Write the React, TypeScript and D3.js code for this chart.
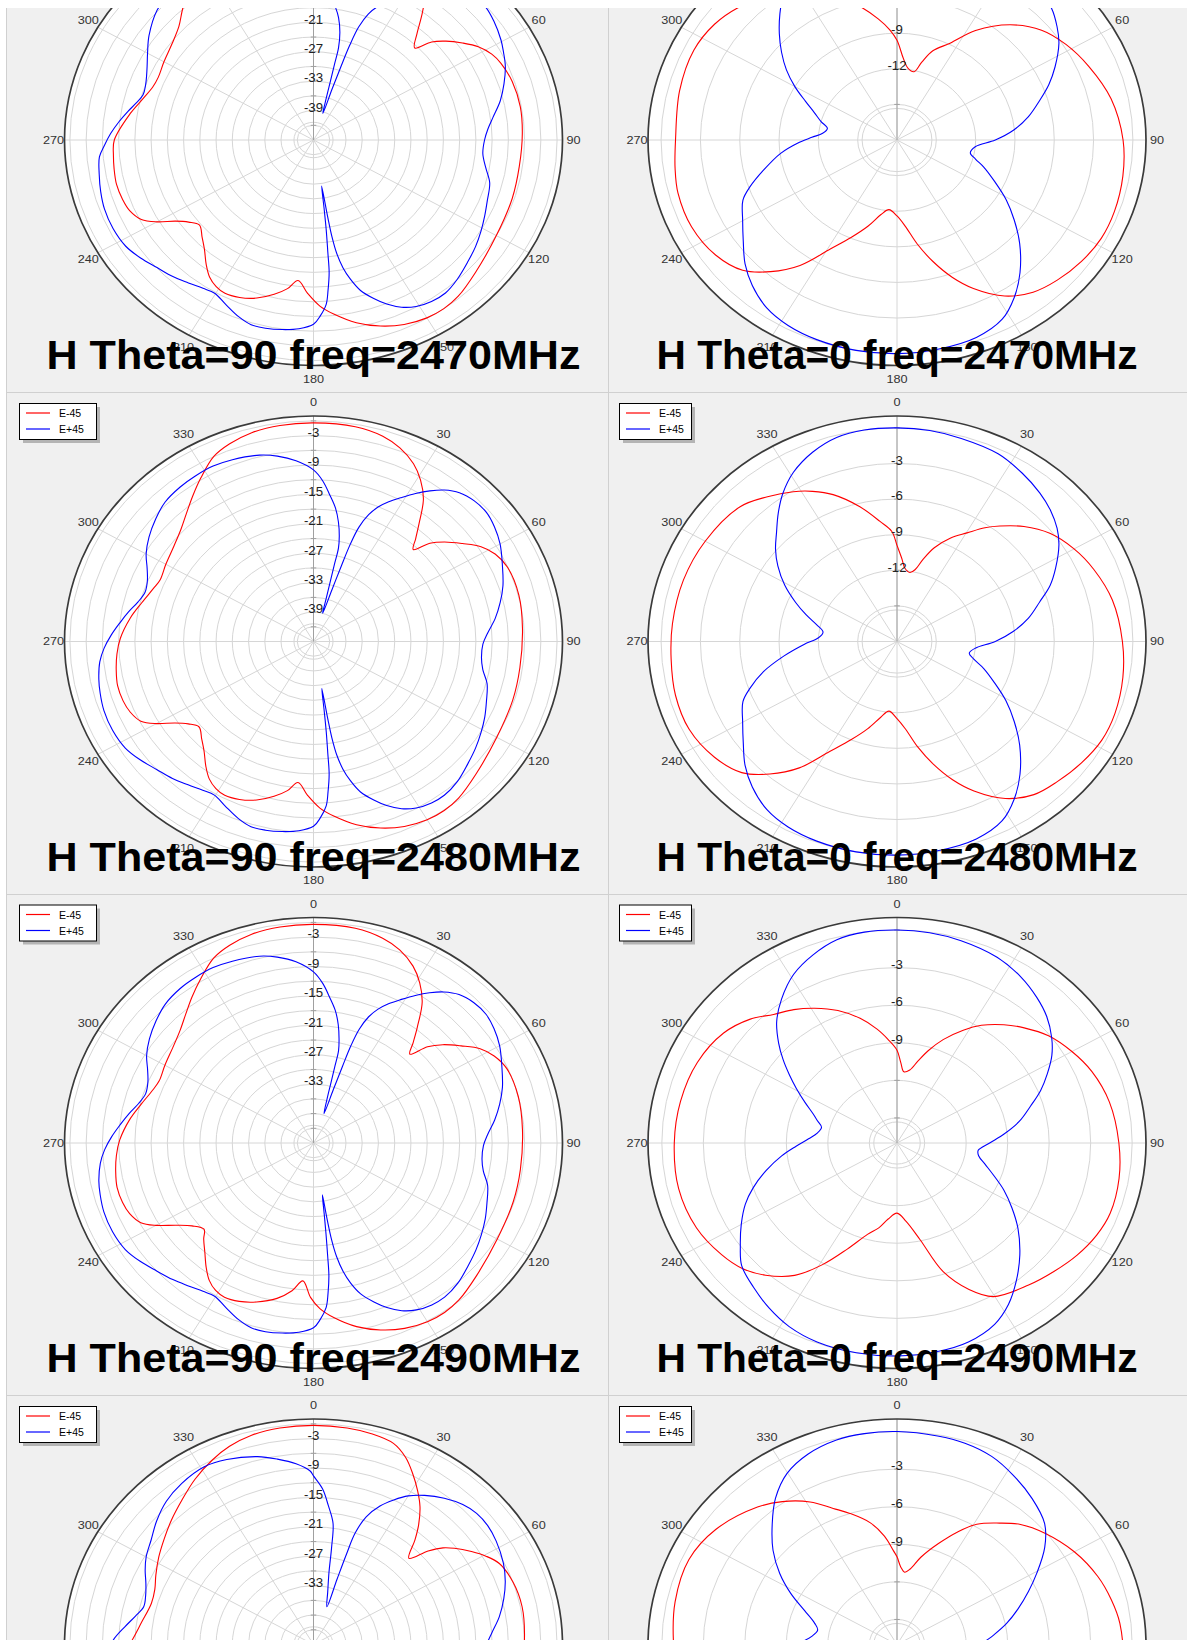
import React, { useEffect, useRef } from "react";
import * as d3 from "d3";

type Pt = [number, number];

// ---------------- data ----------------
const FREQUENCIES = ["2470", "2480", "2490", "2500"];
const SERIES_NAMES = ["E-45", "E+45"];
const SERIES_COLORS = ["#FF0000", "#0000FF"];
const ANGLE_TICKS = [0, 30, 60, 90, 120, 150, 180, 210, 240, 270, 300, 330];

const H90_RANGE: [number, number] = [-45, 1];
const H0_RANGE_A: [number, number] = [-18, 1];
const H0_RANGE_B: [number, number] = [-17, 1];
const H90_RINGS = [-42, -39, -36, -33, -30, -27, -24, -21, -18, -15, -12, -9, -6, -3, 0];
const H0_RINGS = [-15, -12, -9, -6, -3, 0];
const H90_LABELS_A = [-3, -9, -15, -21, -27, -33, -39];
const H90_LABELS_B = [-3, -9, -15, -21, -27, -33];
const H0_LABELS_A = [-3, -6, -9, -12];
const H0_LABELS_B = [-3, -6, -9];

// Theta = 90 cuts  [angle deg, dB]
const H90_2470_EM45: Pt[] = [[0,-0.4],[10,-0.5],[17,-1.2],[22,-2.3],[27,-4.1],[31,-6.4],[36.2,-10.5],[38.5,-13],[41.3,-16],[44.9,-18.5],[47.5,-15.4],[50.5,-13.3],[54.3,-11.1],[58,-9.1],[62,-7.7],[65.7,-7.0],[72,-6.4],[80,-6.2],[88,-6.4],[98,-6.6],[108,-6.4],[120,-6.0],[132,-4.7],[140,-3.4],[145,-3.0],[150,-3.1],[156,-3.8],[162,-5.1],[168,-6.9],[174,-9.3],[178,-11.1],[182,-13.7],[185.7,-16.2],[189,-14.3],[193,-12.7],[198,-11.1],[203,-10.1],[207.6,-9.7],[211,-10.1],[214.5,-11.1],[218,-12.8],[222,-14.9],[226,-16.4],[230.6,-17.7],[234,-16.5],[237,-14.6],[240,-11.6],[243,-9.3],[247,-8.1],[251,-7.7],[256,-7.5],[261,-7.7],[265,-7.9],[270,-8.2],[279,-10.7],[285,-12.4],[290,-13.4],[294,-13.6],[300,-13.1],[307,-12.3],[313,-11.0],[318.5,-8.7],[323,-7.2],[328,-5.5],[334,-3.1],[339,-1.8],[345,-0.9],[352,-0.5]];
const H90_2470_EP45: Pt[] = [[0,-10.2],[3,-12.5],[5.8,-15.2],[8.5,-17.6],[10.5,-19.6],[12.5,-22.5],[13.8,-25.6],[14.1,-29],[14.6,-32.5],[15.4,-36],[17.8,-39.3],[18.3,-34],[18.7,-29],[19.1,-24.5],[19.9,-20.5],[21.5,-17.4],[23.5,-15.3],[26,-13.5],[29,-11.6],[32,-9.6],[35,-7.6],[38,-5.6],[42,-4.0],[46,-3.3],[49.4,-3.2],[54,-3.8],[59.5,-4.8],[63,-5.6],[67,-6.5],[72,-8.0],[77,-9.6],[82,-11.5],[86,-12.7],[90,-13.4],[95,-13.6],[100,-12.7],[105,-11.3],[111,-10.6],[116,-9.8],[121,-8.9],[126,-8],[131,-7.2],[137,-6.1],[142,-5.4],[146.5,-5.5],[150.8,-6.1],[154.5,-7.2],[158,-8.9],[161,-10.8],[164.2,-13.1],[166.5,-15.8],[168.2,-18.4],[169.5,-21.5],[170.2,-25],[170.5,-29],[170.9,-35.5],[172,-31],[172.7,-26.5],[173.4,-22],[173.9,-17.8],[175,-14.2],[176,-11.4],[178,-9.1],[180,-7.4],[184,-6.4],[188.5,-5.9],[193,-5.6],[197,-5.6],[201,-6.4],[206,-7.8],[210.3,-8.8],[214,-8.5],[218.4,-7.8],[223,-6.9],[228,-6.1],[233,-5.0],[238,-4.1],[244,-3.8],[250,-3.9],[255,-4.3],[260,-4.8],[265,-5.3],[268.5,-6.4],[272,-7.5],[276,-8.9],[279.6,-10.2],[283,-11.4],[286.3,-12.2],[290,-12.0],[293,-11.5],[296,-10.8],[300,-9.6],[305,-7.9],[312.5,-5.8],[317,-5.2],[322,-5.0],[327,-4.8],[332.6,-4.7],[338,-5.0],[345.3,-5.7],[350,-6.7],[355,-8.2]];

const H90_2480_EM45: Pt[] = [[0,-0.4],[10,-0.5],[17,-1.2],[22,-2.4],[27,-4.3],[31,-6.6],[35,-9.6],[39,-14],[42,-16.8],[44.5,-18.7],[47,-15.6],[50,-13.4],[54,-11],[58,-8.5],[62,-7],[67,-6.1],[76,-5.9],[86,-6.3],[98,-6.5],[108,-6.3],[120,-5.9],[132,-4.6],[140,-3.3],[145,-2.9],[150,-3.0],[156,-3.7],[162,-5],[168,-6.8],[174,-9.2],[178,-11],[182,-13.6],[185.7,-16.1],[189,-14.2],[193,-12.6],[198,-11],[203,-10],[207.6,-9.6],[211,-10],[214.5,-11],[218,-12.7],[222,-14.8],[226,-16.3],[230.6,-17.6],[234,-16.4],[237,-14.5],[240,-11.5],[243,-9.2],[247,-8.2],[251,-7.8],[256,-7.7],[261,-8.1],[266,-8.6],[271,-9.3],[278,-10.8],[284,-12.3],[290,-13.5],[294,-14],[300,-13.5],[307,-12.7],[313,-11.5],[318,-9.9],[323,-7.9],[328,-5.7],[334,-3.0],[339,-1.8],[345,-0.9],[352,-0.5]];
const H90_2480_EP45: Pt[] = [[0,-10],[3,-12.2],[5.8,-15],[8.5,-17.5],[10.7,-20.2],[12.5,-23],[13.6,-25.4],[13.8,-28.8],[14.2,-32.2],[14.9,-35.6],[16.4,-39],[17.9,-33.9],[18.45,-28.7],[18.9,-24],[19.8,-20.2],[21.5,-17.2],[23.5,-15.1],[26,-13.3],[29,-11.4],[32,-9.4],[35,-7.5],[38,-5.8],[41.6,-4.4],[46,-3.7],[50.5,-3.6],[55,-4.2],[60,-5.2],[66,-6.8],[72,-8.2],[77,-9.6],[82,-11.1],[87,-12.8],[91,-13.7],[96,-13.8],[100.4,-13.2],[105,-11.8],[110.9,-10.8],[116,-9.8],[121,-8.9],[126,-8],[131.3,-7.1],[137,-6],[142.4,-5.4],[146.5,-5.5],[150.8,-6.1],[154.5,-7.2],[158,-8.9],[161,-10.8],[164.2,-13.1],[166.5,-15.8],[168.2,-18.4],[169.5,-21.5],[170.2,-25],[170.5,-29],[170.9,-35.3],[172,-31],[172.7,-26.5],[173.4,-22],[173.9,-17.8],[175,-14.2],[176,-11.4],[178,-9.0],[180,-7.3],[184,-6.3],[188.5,-5.8],[193,-5.5],[197,-5.5],[201,-6.3],[206,-7.7],[210.3,-8.7],[214,-8.4],[218.4,-7.7],[223,-6.8],[228,-6.0],[233,-4.9],[238,-4.0],[244,-3.7],[250,-3.8],[255,-4.2],[259,-4.6],[264,-5.3],[268,-6.3],[272,-7.6],[276,-9.0],[280,-10.3],[284,-11.6],[288,-12.3],[292,-11.9],[296,-10.8],[300,-9.3],[305,-7.9],[310.6,-6.6],[316,-5.5],[322,-5.0],[327,-4.8],[332.6,-4.7],[338,-5.0],[345.3,-5.7],[350,-6.6],[355,-8.0]];

const H90_2490_EM45: Pt[] = [[0,-0.4],[10,-0.5],[17,-1.3],[22,-2.5],[27,-4.5],[31,-6.9],[35,-10],[39,-14.5],[42,-17.5],[44.5,-19.6],[47,-16.2],[50,-13.8],[54,-11.3],[58,-8.7],[62,-7.2],[67,-6.2],[76,-6.0],[86,-6.3],[98,-6.4],[108,-6.2],[120,-5.8],[132,-4.5],[140,-3.2],[145,-2.8],[150,-2.9],[156,-3.6],[162,-4.9],[168,-6.7],[174,-9.2],[178,-11.2],[181,-13.5],[184,-16.8],[187.5,-14.6],[192,-12.6],[198,-10.9],[203,-9.9],[207.6,-9.5],[211,-9.9],[214.5,-11],[218,-12.8],[222,-15],[226,-16.8],[229,-18.2],[233,-16.9],[236.5,-14.6],[240,-11.4],[243,-9.2],[247,-8.1],[251,-7.7],[256,-7.6],[261,-8.0],[266,-8.5],[271,-9.2],[278,-10.7],[284,-12.2],[290,-13.4],[294,-13.8],[300,-13.3],[307,-12.5],[313,-11.3],[318,-9.7],[323,-7.7],[328,-5.6],[334,-3.0],[339,-1.8],[345,-0.9],[352,-0.5]];
const H90_2490_EP45: Pt[] = [[0,-10.1],[3,-12.4],[5.8,-15.2],[8.5,-17.7],[10.7,-20.4],[12.5,-23.2],[13.8,-25.6],[14.2,-29],[14.7,-32.3],[15.5,-35.5],[17.9,-38.7],[18.6,-33.5],[18.9,-28.5],[19.2,-24],[20,-20.3],[21.6,-17.3],[23.6,-15.2],[26,-13.4],[29,-11.5],[32,-9.5],[35,-7.6],[38,-5.9],[41.6,-4.5],[46,-3.8],[50.5,-3.7],[55,-4.3],[60,-5.3],[66,-6.9],[72,-8.3],[77,-9.7],[82,-11.2],[87,-12.8],[91,-13.6],[96,-13.7],[100.4,-13.1],[105,-11.7],[110.9,-10.7],[116,-9.7],[121,-8.8],[126,-7.9],[131.3,-7.0],[137,-5.9],[142.4,-5.3],[146.5,-5.4],[150.8,-6.0],[154.5,-7.1],[158,-8.8],[161,-10.7],[164.2,-13.0],[166.5,-15.6],[168.2,-18.2],[169.6,-21.5],[170.4,-25],[170.8,-29],[171.2,-34.3],[172.2,-30.5],[172.9,-26.3],[173.5,-22],[174,-17.8],[175,-14.2],[176,-11.4],[178,-9.0],[180,-7.3],[184,-6.3],[188.5,-5.8],[193,-5.5],[197,-5.6],[201,-6.4],[206,-7.8],[210.3,-8.8],[214,-8.5],[218.4,-7.8],[223,-6.9],[228,-6.0],[233,-4.9],[238,-4.0],[244,-3.7],[250,-3.8],[255,-4.2],[259,-4.6],[264,-5.4],[268,-6.4],[272,-7.7],[276,-9.1],[280,-10.4],[284,-11.7],[288,-12.4],[292,-12.0],[296,-10.9],[300,-9.4],[305,-8.0],[310.6,-6.7],[316,-5.6],[322,-5.0],[327,-4.8],[332.6,-4.7],[338,-5.0],[345.3,-5.6],[350,-6.5],[355,-7.9]];

const H90_2500_EM45: Pt[] = [[0,-0.3],[8,-0.4],[14,-0.7],[19.8,-1.4],[24,-3.2],[27.7,-5.6],[31.5,-8.2],[35,-10.7],[38.5,-13.8],[41.3,-16.6],[45.1,-20.1],[48,-16.5],[50.5,-14],[53,-12.4],[57,-10.2],[60.5,-8.4],[64.3,-6.9],[71,-6.0],[78.7,-5.7],[88,-6.0],[98,-6.3],[108,-6.1],[120,-5.7],[132,-4.4],[140,-3.2],[145,-2.8],[150,-2.9],[156,-3.6],[162,-4.9],[168,-6.7],[174,-9.1],[178,-10.9],[182,-13.4],[185.7,-16],[189,-14.1],[193,-12.5],[198,-10.9],[203,-9.9],[207.6,-9.5],[211,-9.9],[214.5,-10.9],[218,-12.6],[222,-14.7],[226,-16.2],[230.6,-17.5],[234,-16.3],[237,-14.4],[240,-11.4],[243,-9.1],[247,-8.1],[251,-7.7],[256,-7.6],[262,-8.6],[267,-9.8],[271.6,-11.5],[278,-12.9],[285.7,-13.9],[291,-13.6],[296,-12.6],[302,-11.3],[308,-10.0],[314,-8.5],[320.5,-6.8],[327,-4.8],[333.5,-3.0],[339,-1.7],[345,-0.8],[352,-0.4]];
const H90_2500_EP45: Pt[] = [[0,-10.6],[3,-13.2],[5.5,-16.5],[8.3,-20],[9.6,-25],[11,-30],[13.8,-34],[17.8,-36.9],[18.1,-31],[18.3,-25.5],[18.7,-21],[20.5,-17.2],[23.5,-14.2],[26.7,-12],[30,-10],[34,-8.3],[39,-6.6],[44,-5.3],[48.4,-4.7],[53,-4.7],[58,-5.2],[64.7,-6.2],[70,-7.3],[75,-8.6],[80.6,-10.2],[86,-12.0],[91,-13.2],[96,-13.4],[100.4,-12.9],[105,-11.7],[110.9,-10.7],[116,-9.7],[121,-8.8],[126,-7.9],[131.3,-7.0],[137,-5.9],[142.4,-5.3],[146.5,-5.4],[150.8,-6.0],[154.5,-7.1],[158,-8.8],[161,-10.7],[164.2,-13.0],[166.5,-15.6],[168.2,-18.2],[169.6,-21.5],[170.4,-25],[170.8,-29],[171.2,-34],[172.2,-30.5],[172.9,-26.3],[173.5,-22],[174,-17.8],[175,-14.2],[176,-11.4],[178,-9.0],[180,-7.3],[184,-6.3],[188.5,-5.8],[193,-5.5],[197,-5.6],[201,-6.4],[206,-7.8],[210.3,-8.8],[214,-8.5],[218.4,-7.8],[223,-6.9],[228,-6.0],[233,-4.9],[238,-4.0],[244,-3.8],[250,-3.9],[255,-4.3],[260,-5.0],[265,-6.2],[271.4,-8],[276,-10],[280,-11.6],[283.8,-12.7],[288,-12.4],[292,-11.6],[296,-10.4],[300,-9.3],[305.4,-8.2],[311,-6.6],[317,-5.1],[323.5,-4.1],[330.9,-3.5],[337,-4.0],[344.9,-5.3],[350,-6.6],[355,-8.0],[359,-9.6]];

// Theta = 0 cuts  [angle deg, dB]
const H0_2470_EM45: Pt[] = [[0,-9.6],[4,-11.1],[8,-11.9],[12.7,-12.1],[16,-11.2],[20,-10.0],[26.4,-8.9],[33,-7.0],[41.7,-5.0],[50,-3.6],[58,-2.8],[67.1,-2.1],[78,-1.3],[90,-0.75],[100,-0.5],[110,-0.35],[118,-0.35],[126,-0.6],[134,-1.0],[141,-1.5],[148,-2.5],[155,-4.2],[160,-5.7],[165,-7.4],[170,-9.1],[175,-10.7],[180,-11.6],[186,-12.1],[191,-11.6],[197,-10.4],[203,-9.1],[209,-7.5],[215,-5.1],[221,-3.3],[227,-1.9],[235,-1.1],[245,-0.7],[255,-0.7],[262,-0.9],[270,-1.1],[284,-0.9],[296,-0.75],[305,-1.0],[312.3,-1.5],[320,-2.3],[327,-3.1],[333,-3.9],[339,-4.9],[346,-6.4],[352,-7.7],[356.6,-8.7]];
const H0_2470_EP45: Pt[] = [[0,0],[8,-0.05],[16,-0.2],[26,-0.4],[34,-0.9],[41,-1.4],[46.7,-1.8],[52,-2.5],[56.6,-3.2],[62.9,-4.45],[68,-5.5],[72.9,-6.6],[79,-7.8],[84.6,-9.05],[90,-10.5],[95.4,-12],[101,-12.3],[105,-11.8],[109,-11.0],[115,-9.8],[121.2,-8.25],[127,-6.8],[133,-5.2],[140,-3.4],[146,-2.0],[152,-0.9],[160,-0.3],[170,-0.1],[180,0],[190,0],[200,-0.1],[208,-0.3],[215,-0.7],[222,-1.5],[228,-2.4],[234,-3.5],[240,-4.4],[246.7,-5.2],[250.6,-6.1],[256,-7.5],[262.8,-9.05],[268,-10.4],[272,-11.5],[275.7,-12.3],[280.4,-12.6],[285,-12.0],[290,-11.3],[295,-10.3],[300,-9.0],[305,-7.7],[310,-6.5],[315,-5.3],[320,-4.1],[325,-2.9],[331,-1.7],[338,-0.8],[345,-0.2],[352,0]];

const H0_2480_EM45: Pt[] = [[0,-9.9],[3,-11],[5.6,-11.8],[9.6,-12.1],[12.8,-11.8],[16,-10.8],[19.8,-9.6],[25,-8.4],[30.3,-7.4],[35,-6.3],[38.9,-5.5],[45,-4.3],[52,-3.2],[60,-2.4],[68,-1.8],[78,-1.2],[90,-0.8],[100,-0.5],[110,-0.3],[118,-0.3],[126,-0.6],[134,-1.0],[141,-1.4],[148,-2.4],[155,-4.1],[160,-5.6],[165,-7.3],[170,-9.0],[175,-10.6],[180,-11.5],[186,-12.1],[191,-11.5],[197,-10.3],[203,-9.0],[209,-7.4],[215,-5.0],[221,-3.2],[227,-1.8],[235,-1.0],[245,-0.5],[255,-0.5],[265,-0.7],[275,-0.8],[287.6,-0.9],[300,-1.1],[313.5,-1.5],[321,-2.3],[327.9,-3.1],[333,-3.8],[338.5,-4.7],[346,-6.3],[352.7,-7.8],[357.5,-8.7]];
const H0_2480_EP45: Pt[] = [[0,0],[8,-0.05],[16,-0.2],[26,-0.4],[34,-0.9],[41,-1.4],[46.7,-1.9],[52,-2.5],[56.6,-3.2],[62.9,-4.4],[68,-5.4],[72.9,-6.6],[79,-7.8],[84.6,-9.1],[90,-10.5],[95.4,-12],[100,-12.4],[104,-12],[109,-11.0],[115,-9.8],[121,-8.3],[127,-6.8],[133,-5.2],[140,-3.4],[146,-2.0],[152,-0.9],[160,-0.3],[170,-0.1],[180,0],[190,0],[200,-0.1],[208,-0.3],[215,-0.7],[222,-1.5],[228,-2.4],[234,-3.5],[240,-4.4],[246.7,-5.2],[250.6,-6.1],[256,-7.5],[262,-9.3],[268,-10.9],[273,-12.0],[278,-12.3],[283,-11.7],[288,-10.7],[293,-9.6],[299,-8.2],[305,-6.9],[310,-5.9],[315,-5.0],[320,-3.9],[325,-2.8],[331,-1.7],[338,-0.8],[345,-0.2],[352,0]];

const H0_2490_EM45: Pt[] = [[0,-9.6],[2.5,-10.6],[5,-11.3],[9,-11.1],[13,-10.3],[17,-9.3],[22,-8.1],[28,-6.8],[33,-5.8],[39.3,-4.8],[45,-4.0],[52,-3.1],[60,-2.4],[68,-1.8],[78,-1.3],[90,-0.96],[100,-0.7],[110,-0.6],[117,-0.8],[124.5,-1.2],[132,-1.7],[140,-2.2],[150.4,-2.9],[156,-4.2],[162,-6.2],[167.8,-9.1],[174,-10.7],[180,-11.4],[186,-10.9],[191,-10.1],[196.3,-9.4],[203,-7.8],[209,-5.9],[215,-4.1],[222,-2.8],[228,-2.0],[234.9,-1.5],[245,-1.0],[257,-0.8],[270,-0.9],[282,-1.0],[294,-1.2],[305,-1.7],[313,-2.5],[319,-3.4],[325,-4.0],[331,-4.7],[338,-5.6],[345,-6.7],[351,-7.8],[356,-8.8]];
const H0_2490_EP45: Pt[] = [[0,0],[8,-0.05],[16,-0.2],[26,-0.5],[34,-1.0],[41,-1.6],[47,-2.2],[53,-3.0],[58,-3.8],[63,-4.8],[68,-5.8],[73,-6.9],[79,-8.0],[84.6,-9.2],[90,-10.3],[95.7,-11.1],[100,-11.0],[105,-10.4],[110,-9.6],[116,-8.4],[122,-7.2],[128,-5.9],[135.2,-4.4],[142,-3.0],[148,-1.8],[154,-0.9],[162,-0.3],[170,-0.1],[180,0],[190,0],[200,-0.1],[208,-0.4],[215,-0.9],[222,-1.5],[228.9,-2.1],[234,-3.0],[240,-4.0],[246,-5.0],[251,-6.0],[257,-7.3],[263,-8.6],[268,-9.7],[273,-10.6],[278,-11.2],[283,-11.4],[287,-11.0],[291,-10.5],[296,-9.6],[301,-8.5],[305,-7.5],[309,-6.4],[313,-5.3],[318,-4.0],[324,-2.8],[331,-1.6],[338,-0.8],[345,-0.2],[352,0]];

const H0_2500_EM45: Pt[] = [[0,-10.0],[2.5,-10.8],[5.5,-11.2],[9,-10.9],[14,-9.8],[20.4,-8.4],[26,-7.0],[31,-5.8],[37.4,-4.8],[43,-3.9],[50.3,-3.1],[60,-2.2],[69.5,-1.5],[77,-1.1],[84,-0.8],[95,-0.6],[105,-0.5],[115,-0.7],[124.5,-1.1],[132,-1.6],[140,-2.1],[150,-2.9],[156,-4.2],[162,-6.2],[167.8,-9.0],[174,-10.6],[180,-11.3],[186,-10.8],[191,-10.0],[196.3,-9.3],[203,-7.7],[209,-5.8],[215,-4.0],[222,-2.7],[228,-1.9],[235,-1.4],[245,-1.0],[257,-0.9],[270,-0.85],[282,-0.6],[294.2,-0.5],[305,-1.0],[317.4,-2.1],[324,-2.9],[331.1,-4.0],[337,-5.2],[342,-6.0],[348.8,-7.1],[354,-8.3],[358,-9.5]];
const H0_2500_EP45: Pt[] = [[0,0],[10,-0.1],[17,-0.2],[24.5,-0.5],[32,-1.1],[40,-1.8],[47.8,-2.6],[54,-3.8],[60.6,-5.4],[66,-6.6],[72,-7.8],[78,-8.9],[84,-10],[90,-10.9],[95,-11.2],[100,-11.0],[105,-10.4],[110,-9.6],[116,-8.4],[122,-7.2],[128,-5.9],[135,-4.4],[142,-3.0],[148,-1.8],[154,-0.9],[162,-0.3],[170,-0.1],[180,0],[190,0],[200,-0.1],[208,-0.4],[215,-0.9],[222,-1.5],[229,-2.1],[234,-3.0],[240,-4.0],[246,-5.0],[251,-6.0],[257,-7.3],[263,-8.6],[270,-9.8],[276,-10.8],[281.3,-11.15],[286,-10.8],[292,-9.8],[298,-8.3],[303.8,-6.8],[310,-5.3],[316.9,-3.8],[323,-2.4],[329.8,-1.2],[337,-0.5],[345,-0.1],[352,0]];

const H90_DATA = [[H90_2470_EM45, H90_2470_EP45], [H90_2480_EM45, H90_2480_EP45], [H90_2490_EM45, H90_2490_EP45], [H90_2500_EM45, H90_2500_EP45]];
const H0_DATA = [[H0_2470_EM45, H0_2470_EP45], [H0_2480_EM45, H0_2480_EP45], [H0_2490_EM45, H0_2490_EP45], [H0_2500_EM45, H0_2500_EP45]];

// ---------------- layout ----------------
const W = 1187;
const H = 1640;
const R = 225.5;
const SX = 249 / 225.5;
const ROW_H = 501.5;
const ROW0_TOP = -109.5;
const COL_CX = [313.5, 897];
const COL_X0 = [6, 608];
const LEG_X = [19, 619];
const LEG_W = [77, 72];
const TITLE_W = [534, 481];
const FONT = "'Liberation Sans', Arial, Helvetica, sans-serif";

export default function App() {
  const ref = useRef<SVGSVGElement>(null);

  useEffect(() => {
    const svg = d3.select(ref.current);
    svg.selectAll("*").remove();

    svg.append("rect").attr("width", W).attr("height", H).attr("fill", "#ffffff");
    svg.append("rect").attr("x", 6).attr("y", 8).attr("width", W - 6).attr("height", H - 8).attr("fill", "#F0F0F0");

    const panelsG = svg.append("g");

    FREQUENCIES.forEach((freq, row) => {
      const top = ROW0_TOP + row * ROW_H;
      const cy = top + 249.5;
      [0, 1].forEach((col) => {
        const cx = COL_CX[col];
        const isH90 = col === 0;
        const range = isH90 ? H90_RANGE : row < 2 ? H0_RANGE_A : H0_RANGE_B;
        const rings = isH90 ? H90_RINGS : H0_RINGS;
        const labels = isH90 ? (row < 2 ? H90_LABELS_A : H90_LABELS_B) : row < 2 ? H0_LABELS_A : H0_LABELS_B;
        const data = isH90 ? H90_DATA[row] : H0_DATA[row];
        const title = isH90 ? `H Theta=90 freq=${freq}MHz` : `H Theta=0 freq=${freq}MHz`;

        const r = d3.scaleLinear().domain(range).range([0, R]).clamp(true);
        const g = panelsG.append("g");

        const polar = g.append("g").attr("transform", `translate(${cx},${cy}) scale(${SX},1)`);
        polar.append("circle").attr("r", R).attr("fill", "#ffffff");

        const inner = r(rings[0]);
        const extra = isH90 ? inner + 3 : inner - 4;
        polar.append("g").selectAll("circle").data([...rings, null]).join("circle")
          .attr("r", (d) => (d === null ? extra : r(d as number)))
          .attr("fill", "none").attr("stroke", "#D6D6D6").attr("stroke-width", 1)
          .attr("vector-effect", "non-scaling-stroke");

        polar.append("g").selectAll("line").data(ANGLE_TICKS).join("line")
          .attr("x1", 0).attr("y1", 0)
          .attr("x2", (d) => R * Math.sin((d * Math.PI) / 180))
          .attr("y2", (d) => -R * Math.cos((d * Math.PI) / 180))
          .attr("stroke", "#D6D6D6").attr("stroke-width", 1)
          .attr("vector-effect", "non-scaling-stroke");

        polar.append("line").attr("x1", 0).attr("y1", 0).attr("x2", 0).attr("y2", -R)
          .attr("stroke", "#A0A0A0").attr("stroke-width", 1).attr("vector-effect", "non-scaling-stroke");
        polar.append("g").selectAll("line").data(rings).join("line")
          .attr("x1", -2.5).attr("x2", 2.5)
          .attr("y1", (d) => -r(d)).attr("y2", (d) => -r(d))
          .attr("stroke", "#A0A0A0").attr("vector-effect", "non-scaling-stroke");

        const line = d3.lineRadial<Pt>()
          .angle((d) => (d[0] * Math.PI) / 180)
          .radius((d) => r(d[1]))
          .curve(d3.curveCatmullRomClosed.alpha(0.5));

        data.forEach((series, i) => {
          polar.append("path").attr("d", line(series) as string)
            .attr("fill", "none").attr("stroke", SERIES_COLORS[i]).attr("stroke-width", 1.1)
            .attr("stroke-linejoin", "round")
            .attr("vector-effect", "non-scaling-stroke");
        });

        polar.append("circle").attr("r", R).attr("fill", "none")
          .attr("stroke", "#3A3A3A").attr("stroke-width", 1.7)
          .attr("vector-effect", "non-scaling-stroke");

        // radial labels
        g.append("g").selectAll("text").data(labels).join("text")
          .attr("transform", (d) => `translate(${cx},${cy - r(d) - 2.5}) scale(${SX},1)`)
          .attr("text-anchor", "middle").attr("dominant-baseline", "central")
          .attr("font-family", FONT).attr("font-size", 12).attr("fill", "#222")
          .text((d) => String(d));

        // angle labels
        g.append("g").selectAll("text").data(ANGLE_TICKS).join("text")
          .attr("transform", (d) => {
            const a = (d * Math.PI) / 180;
            const x = cx + Math.sin(a) * (R * SX + 11);
            const y = cy - Math.cos(a) * (R + 13.5);
            return `translate(${x},${y}) scale(${SX},1)`;
          })
          .attr("text-anchor", "middle").attr("dominant-baseline", "central")
          .attr("font-family", FONT).attr("font-size", 11.5).attr("fill", "#333")
          .text((d) => String(d));

        // title
        g.append("text").attr("x", cx).attr("y", cy + 229)
          .attr("text-anchor", "middle").attr("font-family", FONT)
          .attr("font-weight", "bold").attr("font-size", 41).attr("fill", "#000")
          .attr("textLength", TITLE_W[col]).attr("lengthAdjust", "spacingAndGlyphs")
          .text(title);

        // legend
        const lx = LEG_X[col];
        const ly = top + 11;
        const lw = LEG_W[col];
        const leg = g.append("g");
        leg.append("rect").attr("x", lx + 4).attr("y", ly + 4).attr("width", lw).attr("height", 36).attr("fill", "#B4B4B4");
        leg.append("rect").attr("x", lx + 0.5).attr("y", ly + 0.5).attr("width", lw).attr("height", 36)
          .attr("fill", "#ffffff").attr("stroke", "#000").attr("stroke-width", 1);
        SERIES_NAMES.forEach((name, i) => {
          const yy = ly + 10 + i * 16;
          leg.append("line").attr("x1", lx + 7).attr("x2", lx + 31).attr("y1", yy).attr("y2", yy)
            .attr("stroke", SERIES_COLORS[i]).attr("stroke-width", 1.2);
          leg.append("text").attr("x", lx + 40).attr("y", yy).attr("dominant-baseline", "central")
            .attr("font-family", FONT).attr("font-size", 10.5).attr("fill", "#000").text(name);
        });
      });
    });

    // panel borders
    const grid = svg.append("g").attr("stroke", "#D0D0D0").attr("stroke-width", 1);
    [0, 1, 2, 3].forEach((i) => {
      const y = Math.round(ROW0_TOP + i * ROW_H) + 0.5;
      if (y > 8) grid.append("line").attr("x1", 6).attr("x2", W).attr("y1", y).attr("y2", y);
    });
    COL_X0.forEach((x) => {
      grid.append("line").attr("x1", x + 0.5).attr("x2", x + 0.5).attr("y1", 8).attr("y2", H);
    });
    svg.append("rect").attr("x", 0).attr("y", 0).attr("width", W).attr("height", 8).attr("fill", "#ffffff");
  }, []);

  return (
    <svg
      ref={ref}
      width={W}
      height={H}
      style={{ position: "absolute", left: 0, top: 0, display: "block" }}
    />
  );
}
